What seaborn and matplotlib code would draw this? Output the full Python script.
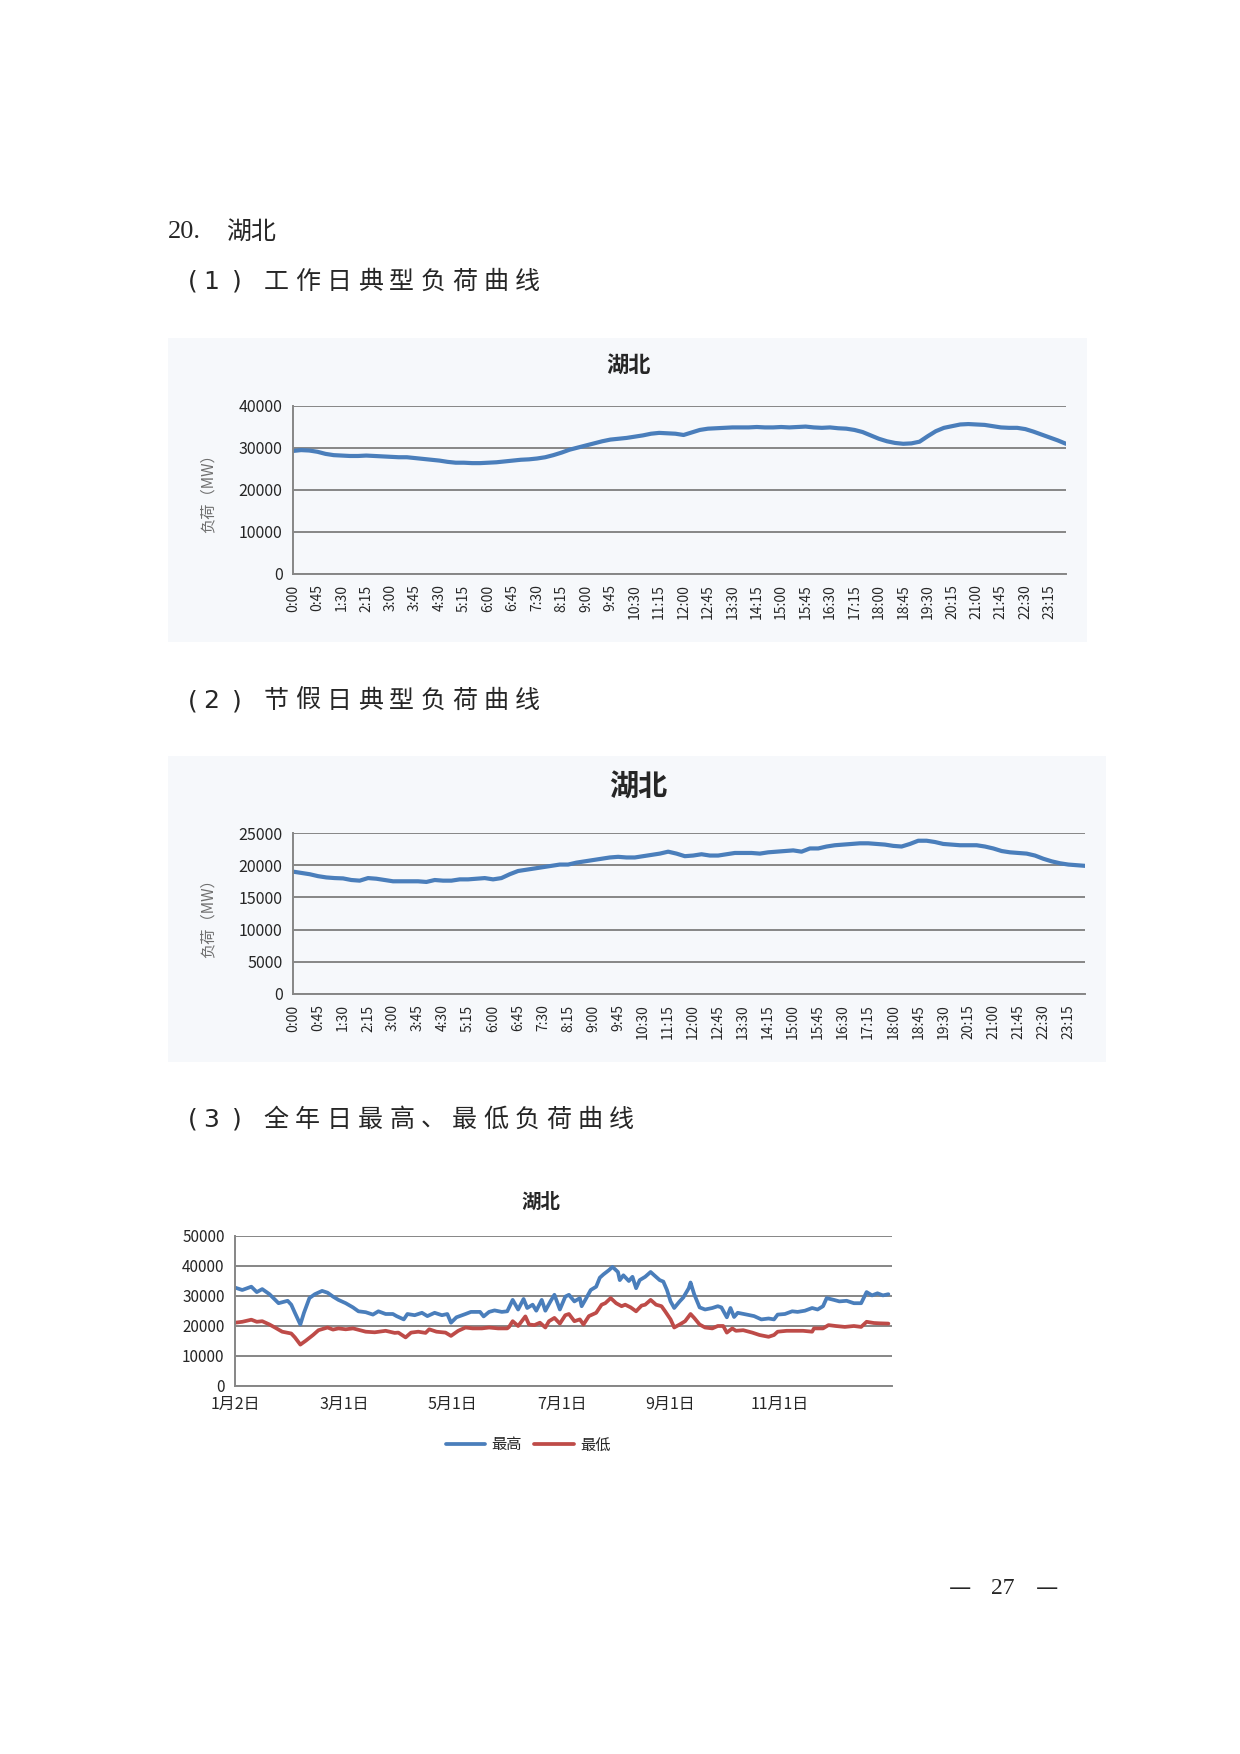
import matplotlib
matplotlib.use('Agg')
import matplotlib.pyplot as plt
from matplotlib.patches import Rectangle
import seaborn as sns
import pandas as pd

# ---- data ----
workday_load = [29300, 29500, 29400, 29100, 28600, 28300, 28200, 28100, 28100, 28200, 28100, 28000,
                27900, 27800, 27800, 27600, 27400, 27200, 27000, 26700, 26500, 26500, 26400, 26400,
                26500, 26600, 26800, 27000, 27200, 27300, 27500, 27800, 28300, 28900, 29600, 30100,
                30600, 31100, 31600, 32000, 32200, 32400, 32700, 33000, 33400, 33600, 33500, 33400,
                33100, 33700, 34300, 34600, 34700, 34800, 34900, 34900, 34900, 35000, 34900, 34900,
                35000, 34900, 35000, 35100, 34900, 34800, 34900, 34700, 34600, 34300, 33800, 33000,
                32200, 31600, 31200, 31000, 31100, 31500, 32800, 34000, 34800, 35200, 35600, 35700,
                35600, 35500, 35200, 34900, 34800, 34800, 34500, 33900, 33200, 32500, 31800, 31000]

holiday_load = [19000, 18800, 18600, 18300, 18100, 18000, 17950, 17700, 17600, 18000, 17900, 17700,
                17500, 17500, 17500, 17500, 17400, 17700, 17600, 17600, 17800, 17800, 17900, 18000,
                17800, 18000, 18600, 19100, 19300, 19500, 19700, 19900, 20100, 20100, 20400, 20600,
                20800, 21000, 21200, 21300, 21200, 21200, 21400, 21600, 21800, 22100, 21800, 21400,
                21500, 21700, 21500, 21500, 21700, 21900, 21900, 21900, 21800, 22000, 22100, 22200,
                22300, 22100, 22600, 22600, 22900, 23100, 23200, 23300, 23400, 23400, 23300, 23200,
                23000, 22900, 23300, 23800, 23800, 23600, 23300, 23200, 23100, 23100, 23100, 22900,
                22600, 22200, 22000, 21900, 21800, 21500, 21000, 20600, 20300, 20100, 20000, 19900]

# annual curve: day number counted from 1月2日
max_day = [0, 4, 9, 12, 15, 19, 24, 29, 31, 33, 36, 38, 41, 44, 48, 51, 54, 57, 61, 65, 68, 72, 76, 79,
           83, 87, 89, 93, 95, 99, 103, 106, 110, 114, 117, 119, 122, 127, 130, 135, 137, 140, 143, 147,
           150, 153, 156, 159, 161, 164, 166, 169, 171, 174, 176, 179, 182, 184, 187, 190, 191, 193, 196,
           199, 201, 203, 206, 208, 211, 212, 214, 217, 219, 221, 223, 226, 229, 231, 234, 236, 238, 240,
           242, 245, 247, 250, 251, 253, 256, 259, 263, 266, 268, 271, 273, 275, 277, 282, 286, 290, 294,
           297, 299, 303, 307, 310, 314, 318, 321, 324, 326, 330, 333, 337, 341, 345, 348, 351, 354, 357, 360]
max_load = [32800, 32000, 33100, 31300, 32300, 30600, 27600, 28400, 27100, 24400, 20500, 24400, 29300,
            30600, 31700, 31100, 29800, 28700, 27600, 26200, 24900, 24600, 23800, 24900, 24000, 24000,
            23300, 22200, 24000, 23600, 24400, 23300, 24400, 23600, 24000, 21100, 22900, 24000, 24700,
            24700, 23200, 24700, 25200, 24700, 24900, 28700, 25500, 29000, 26000, 27100, 25100, 28700,
            25100, 28400, 30400, 25500, 29800, 30400, 28200, 29300, 26600, 28700, 32000, 33100, 36100,
            37200, 38600, 39700, 38000, 35300, 36900, 35000, 36400, 32600, 35300, 36400, 38000, 36900,
            35300, 34800, 32000, 28200, 26000, 28200, 29500, 32600, 34500, 30600, 26200, 25500, 26000,
            26600, 26200, 22900, 26000, 23000, 24400, 23800, 23300, 22200, 22500, 22200, 23800, 24000,
            24900, 24700, 25100, 26000, 25500, 26600, 29300, 28700, 28200, 28400, 27600, 27600, 31300,
            30200, 30900, 30200, 30600]

min_day = [0, 4, 9, 12, 15, 19, 22, 26, 31, 33, 36, 39, 43, 46, 51, 54, 57, 61, 65, 67, 72, 77, 83, 88,
           90, 94, 97, 101, 105, 107, 111, 116, 119, 123, 127, 131, 136, 140, 145, 150, 151, 153, 156,
           160, 162, 165, 168, 171, 173, 176, 179, 182, 184, 187, 190, 192, 195, 199, 202, 204, 207, 210,
           213, 215, 218, 221, 224, 226, 229, 232, 235, 237, 240, 242, 245, 248, 251, 253, 256, 259, 263,
           266, 269, 271, 274, 276, 280, 285, 289, 294, 297, 299, 304, 308, 313, 318, 319, 324, 327, 331,
           336, 341, 345, 348, 352, 355, 360]
min_load = [21100, 21400, 22100, 21400, 21600, 20500, 19500, 18100, 17500, 16200, 13800, 15100, 17000,
            18600, 19500, 18800, 19200, 18900, 19200, 18900, 18100, 17900, 18400, 17700, 17800, 16200,
            17800, 18100, 17700, 18900, 18100, 17800, 16700, 18400, 19500, 19200, 19200, 19500, 19200,
            19200, 19700, 21600, 20000, 23200, 20500, 20300, 21100, 19500, 21600, 22700, 20800, 23600,
            24000, 21600, 22200, 20500, 23300, 24400, 27100, 27600, 29300, 27600, 26600, 27100, 26200,
            24900, 26800, 27100, 28700, 27100, 26600, 24900, 22200, 19500, 20500, 21600, 24000, 22700,
            20500, 19500, 19200, 20000, 20000, 17800, 19200, 18400, 18600, 17800, 17000, 16400, 17000,
            18100, 18400, 18400, 18400, 18100, 19200, 19200, 20300, 20000, 19700, 20000, 19700, 21400,
            21000, 20900, 20800]

month_ticks = [0, 60, 120, 180, 240, 300, 360]
month_labels = ['1月2日', '3月1日', '5月1日', '7月1日', '9月1日', '11月1日', '']

time_labels = ['%d:%02d' % divmod(15 * i, 60) for i in range(96)]

sns.set_style('white')
plt.rcParams['font.family'] = ['Noto Sans CJK SC', 'DejaVu Sans']

W, H = 1240, 1754
fig = plt.figure(figsize=(W / 100, H / 100), dpi=100)
fig.patch.set_facecolor('white')

BLUE = '#4a7ebb'
RED = '#be4b48'
GRID = '#868686'


def fx(x):
    return x / W


def fy(y):
    return 1 - y / H


def axes_px(left, top, right, bottom):
    return fig.add_axes([fx(left), fy(bottom), (right - left) / W, (bottom - top) / H])


def style_axes(ax):
    ax.patch.set_alpha(0)
    ax.grid(axis='y', color=GRID, lw=1.4)
    ax.grid(axis='x', visible=False)
    for s in ['top', 'right']:
        ax.spines[s].set_visible(False)
    for s in ['left', 'bottom']:
        ax.spines[s].set_color(GRID)
        ax.spines[s].set_linewidth(1.4)
    ax.tick_params(axis='both', direction='out', color=GRID, length=5, width=1, pad=2.5)
    ax.set_xlabel('')
    ax.set_ylabel('')


def heading(y, num, text):
    fig.text(fx(193), fy(y), '(', fontsize=18, va='center', ha='center', family='DejaVu Sans')
    fig.text(fx(211), fy(y), num, fontsize=18, va='center', ha='center', family='DejaVu Sans')
    fig.text(fx(237), fy(y), ')', fontsize=18, va='center', ha='center', family='DejaVu Sans')
    for i, ch in enumerate(text):
        fig.text(fx(276 + 31.4 * i), fy(y), ch, fontsize=18, va='center', ha='center')


def panel_bg(left, top, right, bottom):
    fig.patches.append(Rectangle((fx(left), fy(bottom)), (right - left) / W, (bottom - top) / H,
                                 transform=fig.transFigure, facecolor='#f6f8fb', edgecolor='none',
                                 zorder=-10))


# headings
fig.text(fx(168), fy(232), '20.', fontsize=19, va='center', ha='left', family='Liberation Serif')
fig.text(fx(226), fy(232), '湖北', fontsize=18, va='center', ha='left')
heading(282, '1', '工作日典型负荷曲线')
heading(701, '2', '节假日典型负荷曲线')
heading(1120, '3', '全年日最高、最低负荷曲线')

# ---- panel 1: workday ----
panel_bg(168, 338, 1087, 642)
ax1 = axes_px(293, 406, 1066, 574)
df1 = pd.DataFrame({'t': range(len(workday_load)), 'load': workday_load})
sns.lineplot(data=df1, x='t', y='load', ax=ax1, color=BLUE, lw=3)
ax1.set_xlim(0, 95)
ax1.set_ylim(0, 40000)
ax1.set_yticks(range(0, 40001, 10000))
ax1.set_yticklabels([str(v) for v in range(0, 40001, 10000)], fontsize=11.5)
ax1.set_xticks(range(96))
ax1.set_xticklabels([t if i % 3 == 0 else '' for i, t in enumerate(time_labels)], rotation=90, fontsize=10)
style_axes(ax1)
fig.text(fx(629), fy(365), '湖北', fontsize=16, weight='bold', ha='center', va='center')
fig.text(fx(208), fy(490), '负荷（MW）', fontsize=11, rotation=90, ha='center', va='center', color='#6f6f6f')

# ---- panel 2: holiday ----
panel_bg(168, 756, 1106, 1062)
ax2 = axes_px(293, 833, 1085, 994)
df2 = pd.DataFrame({'t': range(len(holiday_load)), 'load': holiday_load})
sns.lineplot(data=df2, x='t', y='load', ax=ax2, color=BLUE, lw=3)
ax2.set_xlim(0, 95)
ax2.set_ylim(0, 25000)
ax2.set_yticks(range(0, 25001, 5000))
ax2.set_yticklabels([str(v) for v in range(0, 25001, 5000)], fontsize=11.5)
ax2.set_xticks(range(96))
ax2.set_xticklabels([t if i % 3 == 0 else '' for i, t in enumerate(time_labels)], rotation=90, fontsize=10)
style_axes(ax2)
fig.text(fx(638), fy(787), '湖北', fontsize=21, weight='bold', ha='center', va='center')
fig.text(fx(208), fy(915), '负荷（MW）', fontsize=11, rotation=90, ha='center', va='center', color='#6f6f6f')

# ---- panel 3: annual max / min ----
ax3 = axes_px(235, 1236, 892, 1386)
df_max = pd.DataFrame({'day': max_day, 'load': max_load})
df_min = pd.DataFrame({'day': min_day, 'load': min_load})
sns.lineplot(data=df_max, x='day', y='load', ax=ax3, color=BLUE, lw=2.7, label='最高')
sns.lineplot(data=df_min, x='day', y='load', ax=ax3, color=RED, lw=2.7, label='最低')
ax3.set_xlim(0, 362)
ax3.set_ylim(0, 50000)
ax3.set_yticks(range(0, 50001, 10000))
ax3.set_yticklabels([str(v) for v in range(0, 50001, 10000)], fontsize=11)
ax3.set_xticks(month_ticks)
ax3.set_xticklabels(month_labels, fontsize=11.5)
style_axes(ax3)
ax3.get_legend().remove()
handles, labels = ax3.get_legend_handles_labels()
fig.legend(handles, labels, loc='center', bbox_to_anchor=(fx(528), fy(1445)), ncol=2, frameon=False,
           fontsize=11, handlelength=2.6, columnspacing=0.8, handletextpad=0.4)
fig.text(fx(541), fy(1202), '湖北', fontsize=14, weight='bold', ha='center', va='center')

# page number
fig.text(fx(960), fy(1588), '—', fontsize=16, ha='center', va='center', family='DejaVu Sans')
fig.text(fx(1003), fy(1588), '27', fontsize=17, ha='center', va='center', family='Liberation Serif')
fig.text(fx(1047), fy(1588), '—', fontsize=16, ha='center', va='center', family='DejaVu Sans')

fig.savefig('out.png', dpi=100)
